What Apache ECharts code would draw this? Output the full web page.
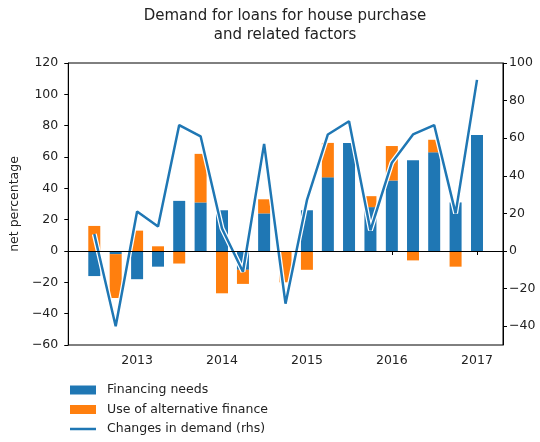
<!DOCTYPE html>
<html>
<head>
<meta charset="utf-8">
<script src="https://cdn.jsdelivr.net/npm/echarts@6/dist/echarts.min.js"></script>
<style>
  html, body { margin: 0; padding: 0; background: #fff; }
  #chart { width: 540px; height: 442px; }
</style>
</head>
<body>
<div id="chart"></div>
<script>
// survey quarters, 2012Q3 .. 2017Q1
const quarters = ['2012-07-01', '2012-10-01', '2013-01-01', '2013-04-01', '2013-07-01', '2013-10-01',
                  '2014-01-01', '2014-04-01', '2014-07-01', '2014-10-01', '2015-01-01', '2015-04-01',
                  '2015-07-01', '2015-10-01', '2016-01-01', '2016-04-01', '2016-07-01', '2016-10-01',
                  '2017-01-01'];
const financingNeeds = [-16, -2, -18, -10, 32, 31, 26, -12, 24, 0, 26, 47, 69, 28, 45, 58, 63, 31, 74];
const altFinance = [16, -28, 13, 3, -8, 31, -27, -9, 9, -20, -12, 22, 0, 7, 22, -6, 8, -10, 0];
const demandChange = [9, -40, 21, 13, 67, 61, 12, -11, 57, -28, 27, 62, 69, 11, 47, 62, 67, 20, 91];
const rightTicks = [-40, -20, 0, 20, 40, 60, 80, 100];

const FONT = 'DejaVu Sans';
const TXT = '#222';
const YEAR_MS = 365 * 24 * 3600 * 1000;
const minus = v => String(v).replace('-', '\u2212');
// thin line icon for the legend, padded to the 26x9 icon box
const LINE_ICON = 'path://M0,0h0.01v0.01h-0.01z M0,3.2h26v2.6h-26z M0,9h0.01v-0.01h-0.01z';

function pairs(vals) {
    return quarters.map((q, i) => [q, vals[i]]);
}

const chart = echarts.init(document.getElementById('chart'));

const option = {
    animation: false,
    textStyle: { fontFamily: FONT },
    title: {
        text: 'Demand for loans for house purchase\nand related factors',
        left: 285, top: 7, padding: 0,
        textAlign: 'center',
        textStyle: { fontFamily: FONT, fontSize: 15, fontWeight: 'normal', color: TXT, lineHeight: 19 }
    },
    grid: {
        left: 68, right: 37, top: 63, bottom: 97,
        show: true, borderColor: '#000', borderWidth: 1, backgroundColor: 'transparent'
    },
    legend: {
        orient: 'vertical', left: 70, top: 383, padding: 0,
        itemWidth: 26, itemHeight: 9, itemGap: 5.5,
        textStyle: { fontFamily: FONT, fontSize: 12.5, color: TXT, lineHeight: 14, padding: [0, 0, 0, 6] },
        data: [
            { name: 'Financing needs', icon: 'rect' },
            { name: 'Use of alternative finance', icon: 'rect' },
            { name: 'Changes in demand (rhs)', icon: LINE_ICON }
        ]
    },
    xAxis: {
        // echarts widens a bar axis by half a bar on each side, so the limits sit a little inside
        type: 'time', min: '2012-04-06', max: '2017-03-28',
        minInterval: YEAR_MS, maxInterval: YEAR_MS * 1.01,
        axisLine: { show: true, lineStyle: { color: '#000' } },
        axisTick: { show: true, length: 4, lineStyle: { color: '#000' } },
        axisLabel: {
            margin: 9, fontSize: 12.5, color: TXT, fontFamily: FONT,
            formatter: v => String(new Date(v).getFullYear())
        },
        splitLine: { show: false }
    },
    yAxis: [{
        type: 'value', min: -60, max: 120, interval: 20,
        name: 'net percentage', nameLocation: 'middle', nameGap: 44,
        nameTextStyle: { fontFamily: FONT, fontSize: 12.5, color: TXT },
        axisLine: { show: true, lineStyle: { color: '#000' } },
        axisTick: { show: true, length: 4, lineStyle: { color: '#000' } },
        axisLabel: { margin: 10, fontSize: 12.5, color: TXT, fontFamily: FONT, formatter: minus },
        splitLine: { show: false }
    }, {
        type: 'value', min: -50, max: 100,
        axisLine: { show: true, lineStyle: { color: '#000' } },
        axisTick: { show: true, length: 4, customValues: rightTicks, lineStyle: { color: '#000' } },
        axisLabel: { customValues: rightTicks, margin: 6, fontSize: 12.5, color: TXT, fontFamily: FONT, formatter: minus },
        splitLine: { show: false }
    }],
    series: [{
        name: 'Financing needs',
        type: 'bar', stack: 'total', barWidth: 12,
        itemStyle: { color: '#1f77b4' },
        data: pairs(financingNeeds)
    }, {
        name: 'Use of alternative finance',
        type: 'bar', stack: 'total', barWidth: 12,
        itemStyle: { color: '#ff7f0e' },
        data: pairs(altFinance),
        markLine: {
            silent: true, symbol: 'none', label: { show: false },
            lineStyle: { color: '#000', width: 1, type: 'solid' },
            data: [{ yAxis: 0 }]
        }
    }, {
        name: 'outline',
        type: 'line', yAxisIndex: 1, symbol: 'none', silent: true,
        lineStyle: { color: '#fff', width: 5 },
        data: pairs(demandChange)
    }, {
        name: 'Changes in demand (rhs)',
        type: 'line', yAxisIndex: 1, symbol: 'none',
        itemStyle: { color: '#1f77b4' },
        lineStyle: { color: '#1f77b4', width: 2.5 },
        data: pairs(demandChange)
    }]
};

chart.setOption(option);
</script>
</body>
</html>
